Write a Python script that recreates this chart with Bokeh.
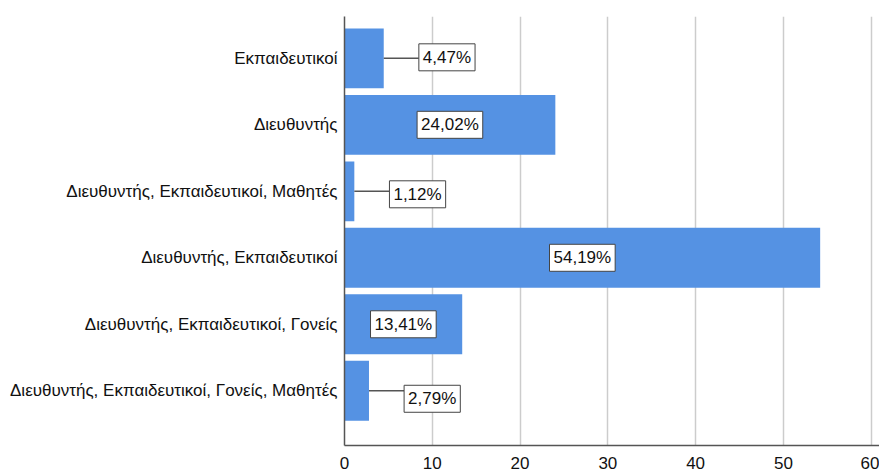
from bokeh.plotting import figure
from bokeh.models import ColumnDataSource, Range1d, FixedTicker
from bokeh.core.properties import value
from bokeh.embed import file_html
from bokeh.resources import INLINE

categories = [
    "Εκπαιδευτικοί",
    "Διευθυντής",
    "Διευθυντής, Εκπαιδευτικοί, Μαθητές",
    "Διευθυντής, Εκπαιδευτικοί",
    "Διευθυντής, Εκπαιδευτικοί, Γονείς",
    "Διευθυντής, Εκπαιδευτικοί, Γονείς, Μαθητές",
]
percentages = [4.47, 24.02, 1.12, 54.19, 13.41, 2.79]
x_ticks = [0, 10, 20, 30, 40, 50, 60]

# layout-only values
label_box_dy_px = [-1, 0, 3, 0, 0, 8]
FONT = "Liberation Sans"
BAR_COLOR = "#5592E3"
TEXT_COLOR = "#111111"

pos = list(range(len(categories)))
fmt = [f"{v:.2f}".replace(".", ",") + "%" for v in percentages]
inside = [v >= 10 for v in percentages]

p = figure(width=879, height=471, output_backend="svg", toolbar_location=None,
           x_range=Range1d(0, 60.95), y_range=Range1d(5.823, -0.629),
           min_border_left=344, min_border_right=0, min_border_top=16,
           min_border_bottom=24)
p.outline_line_color = None
p.background_fill_color = "white"
p.border_fill_color = "white"

# bars
src = ColumnDataSource(dict(y=pos, right=percentages))
p.hbar(y="y", left=0, right="right", height=0.9, source=src,
       fill_color=BAR_COLOR, line_color=None)

# labels inside wide bars
in_src = ColumnDataSource(dict(
    x=[v / 2 for v, i in zip(percentages, inside) if i],
    y=[k for k, i in zip(pos, inside) if i],
    t=[f for f, i in zip(fmt, inside) if i],
    dy=[d for d, i in zip(label_box_dy_px, inside) if i],
))
p.text(x="x", y="y", text="t", source=in_src, text_align="center",
       text_baseline="middle", y_offset="dy", text_font=value(FONT),
       text_font_size="17px", text_color=TEXT_COLOR,
       background_fill_color="white", border_line_color="#444444",
       border_line_width=1, padding=4)

# labels outside narrow bars with leader lines
GAP = 4.0
out_vals = [v for v, i in zip(percentages, inside) if not i]
out_pos = [k for k, i in zip(pos, inside) if not i]
out_src = ColumnDataSource(dict(
    x0=out_vals,
    x1=[v + GAP for v in out_vals],
    y=out_pos,
    t=[f for f, i in zip(fmt, inside) if not i],
    dy=[d for d, i in zip(label_box_dy_px, inside) if not i],
))
p.segment(x0="x0", y0="y", x1="x1", y1="y", source=out_src,
          line_color="#555555", line_width=1.5)
p.text(x="x1", y="y", text="t", source=out_src, text_align="left",
       text_baseline="middle", x_offset=0, y_offset="dy",
       text_font=value(FONT), text_font_size="17px", text_color=TEXT_COLOR,
       background_fill_color="white", border_line_color="#444444",
       border_line_width=1, padding=4)

# axes
p.xaxis.ticker = FixedTicker(ticks=x_ticks)
p.yaxis.ticker = FixedTicker(ticks=pos)
p.yaxis.major_label_overrides = {k: c for k, c in zip(pos, categories)}
for ax in (p.xaxis[0], p.yaxis[0]):
    ax.major_tick_line_color = None
    ax.minor_tick_line_color = None
    ax.axis_line_color = "#555555"
    ax.axis_line_width = 1.5
    ax.major_label_text_font = FONT
    ax.major_label_text_font_size = "17px"
    ax.major_label_text_color = TEXT_COLOR
p.xaxis.major_label_standoff = 5
p.yaxis.major_label_standoff = 1

p.xgrid.ticker = FixedTicker(ticks=x_ticks[1:])
p.xgrid.grid_line_color = "#cccccc"
p.xgrid.grid_line_width = 1.5
p.ygrid.grid_line_color = None

open("out.html", "w").write(file_html(p, INLINE))
